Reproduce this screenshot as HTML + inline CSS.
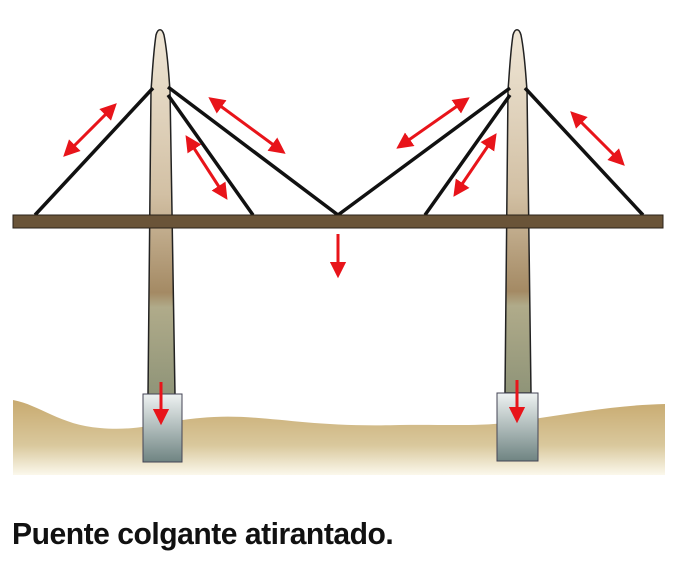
<!DOCTYPE html>
<html><head><meta charset="utf-8"><style>
body{margin:0;background:#fff;width:680px;height:567px;overflow:hidden}
.t{position:absolute;left:12px;top:516px;font:bold 31px "Liberation Sans",sans-serif;color:#111;letter-spacing:-0.5px;transform:scaleX(0.97);transform-origin:left}
</style></head><body>
<svg width="680" height="567" style="position:absolute;left:0;top:0">
<defs>
<linearGradient id="tw" x1="0" y1="0" x2="0" y2="1">
<stop offset="0" stop-color="#efe6d6"/><stop offset="0.45" stop-color="#d2c0a4"/><stop offset="0.72" stop-color="#a48a64"/><stop offset="0.76" stop-color="#b0ab8a"/><stop offset="1" stop-color="#8f9478"/></linearGradient>
<linearGradient id="ft" x1="0" y1="0" x2="0" y2="1"><stop offset="0" stop-color="#eef2f2"/><stop offset="1" stop-color="#6f8482"/></linearGradient>
<linearGradient id="gr" x1="0" y1="0" x2="0" y2="1"><stop offset="0" stop-color="#c8aa70"/><stop offset="0.6" stop-color="#d9c89c"/><stop offset="1" stop-color="#fbf8ec"/></linearGradient>
<marker id="a" viewBox="0 0 10 10" refX="5" refY="5" markerWidth="5.5" markerHeight="5.5" orient="auto-start-reverse"><path d="M0,0L10,5L0,10z" fill="#e8141a"/></marker>
</defs>
<path d="M13,400 C40,405 60,425 100,428 C140,432 170,420 200,418 C260,412 300,428 400,425 C450,424 490,428 540,418 C580,412 620,405 665,404 L665,475 L13,475 Z" fill="url(#gr)"/>
<path d="M156,35 C153,55 152,80 151,90 L148,395 L175,395 L170,90 C169,80 168,55 164,35 C162,28 158,28 156,35Z" fill="url(#tw)" stroke="#222" stroke-width="1.5"/>
<path d="M513,35 C510,55 509,80 508,90 L505,393 L531,393 L527,90 C526,80 525,55 521,35 C519,28 515,28 513,35Z" fill="url(#tw)" stroke="#222" stroke-width="1.5"/>
<rect x="143" y="394" width="39" height="68" fill="url(#ft)" stroke="#445" stroke-width="1"/>
<rect x="497" y="393" width="41" height="68" fill="url(#ft)" stroke="#445" stroke-width="1"/>
<g stroke="#111" stroke-width="3.5" fill="none">
<path d="M153,88L35,215M168,87L338,215M168,95L253,215M510,88L338,215M510,95L425,215M525,88L643,215"/>
</g>
<rect x="13" y="215" width="650" height="13" fill="#6a5438" stroke="#2a2218" stroke-width="1"/>
<g stroke="#e8141a" stroke-width="3" marker-start="url(#a)" marker-end="url(#a)">
<line x1="69" y1="151" x2="111" y2="109"/>
<line x1="215" y1="102" x2="279" y2="149"/>
<line x1="190" y1="142" x2="223" y2="193"/>
<line x1="403" y1="144" x2="463" y2="102"/>
<line x1="458" y1="190" x2="492" y2="140"/>
<line x1="576" y1="117" x2="619" y2="160"/>
</g>
<g stroke="#e8141a" stroke-width="3" marker-end="url(#a)">
<line x1="338" y1="234" x2="338" y2="270"/>
<line x1="161" y1="382" x2="161" y2="417"/>
<line x1="517" y1="380" x2="517" y2="415"/>
</g>
</svg>
<div class="t">Puente colgante atirantado.</div>
</body></html>
